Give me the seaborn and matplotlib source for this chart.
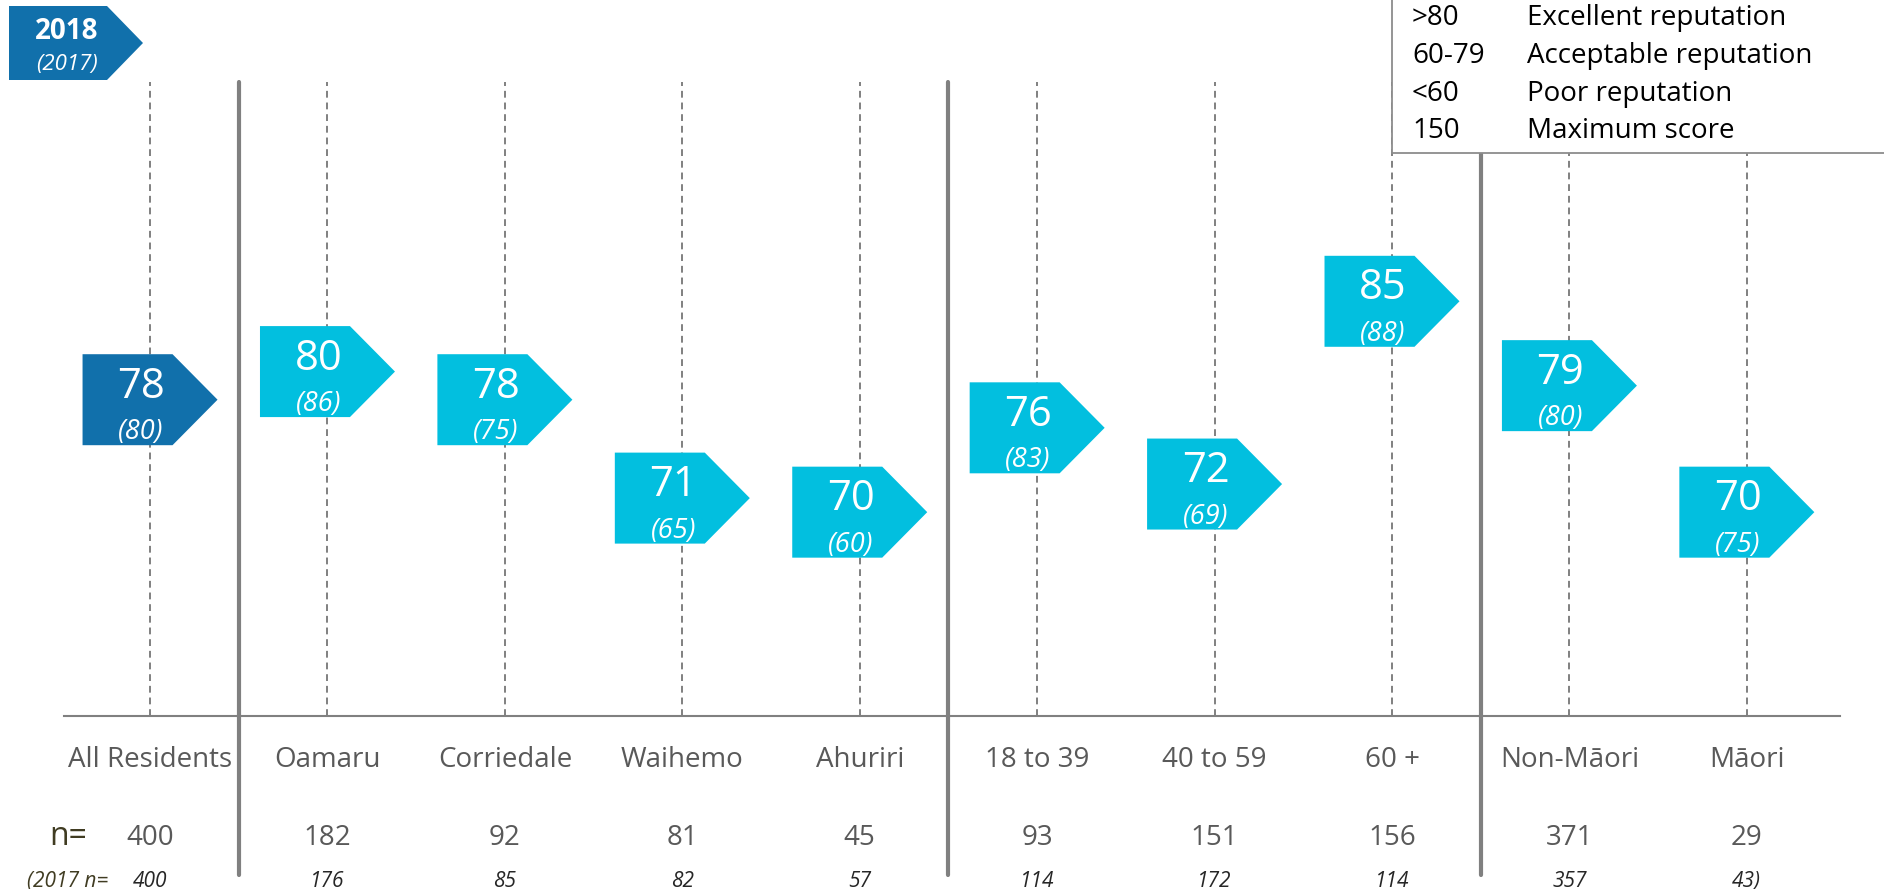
import numpy as np
import pandas as pd
import matplotlib
matplotlib.use("Agg")
import matplotlib.pyplot as plt
import seaborn as sns
from matplotlib.patches import Polygon, Rectangle

# ---- data ----
categories = ["All Residents", "Oamaru", "Corriedale", "Waihemo", "Ahuriri",
              "18 to 39", "40 to 59", "60 +", "Non-Māori", "Māori"]
score_2018 = [78, 80, 78, 71, 70, 76, 72, 85, 79, 70]
score_2017 = [80, 86, 75, 65, 60, 83, 69, 88, 80, 75]
n_2018 = [400, 182, 92, 81, 45, 93, 151, 156, 371, 29]
n_2017 = [400, 176, 85, 82, 57, 114, 172, 114, 357, 43]
group = ["Total"] + ["Subgroup"] * 9
separators = [0.5, 4.5, 7.5]
legend_bands = [">80", "60-79", "<60", "150"]
legend_texts = ["Excellent reputation", "Acceptable reputation",
                "Poor reputation", "Maximum score"]

# ---- style ----
DARK = "#1170AB"
CYAN = "#02BFDF"
GRID = "#808080"
LABEL = "#595959"
OLIVE = "#403C22"

sns.set_theme(style="white")
plt.rcParams["font.family"] = ["Open Sans", "DejaVu Sans"]

W, H = 1884, 889
fig = plt.figure(figsize=(W / 100, H / 100), dpi=100)
ax = fig.add_axes([64 / W, (H - 716) / H, (1840 - 64) / W, (716 - 82) / H])

df = pd.DataFrame({
    "category": categories,
    "pos": np.arange(len(categories)),
    "score": score_2018,
    "prev": score_2017,
    "group": group,
})

# arrow-shaped marker (flat left side, pointed right side)
arrow = np.array([[-1.0, -0.674], [0.333, -0.674], [1.0, 0.0],
                  [0.333, 0.674], [-1.0, 0.674], [-1.0, -0.674]])

# dashed guide per category
for p in df["pos"]:
    ax.axvline(p, color=GRID, lw=1.4, ls=(0, (3.5, 2.5)), zorder=1)

sns.scatterplot(data=df, x="pos", y="score", hue="group",
                palette={"Total": DARK, "Subgroup": CYAN},
                marker=arrow, s=97.2 ** 2, edgecolor="none", linewidth=0,
                legend=False, ax=ax, zorder=3)

for _, r in df.iterrows():
    ax.annotate(f"{r['score']}", (r["pos"], r["score"]), xytext=(-6.5, 1.4),
                textcoords="offset points", ha="center", va="baseline",
                fontsize=30, color="white", zorder=4)
    ax.annotate(f"({r['prev']})", (r["pos"], r["score"]), xytext=(-6.5, -28.5),
                textcoords="offset points", ha="center", va="baseline",
                fontsize=19.5, fontstyle="italic", color="white", zorder=4)

ax.set_xlim(-0.485, 9.525)
ax.set_ylim(55.5, 100.6)
ax.set_xticks([])
ax.set_yticks([])
ax.set_xlabel("")
ax.set_ylabel("")
for side in ["left", "right", "top"]:
    ax.spines[side].set_visible(False)
ax.spines["bottom"].set_color(GRID)
ax.spines["bottom"].set_linewidth(1.5)

# group separators running down through the n= rows
for s in separators:
    ax.axvline(s, ymin=-0.251, ymax=1.0, color=GRID, lw=3, clip_on=False, zorder=2)

# category labels and sample sizes
tx = ax.get_xaxis_transform()
for p, cat, n1, n0 in zip(df["pos"], categories, n_2018, n_2017):
    ax.text(p, -0.0804, cat, transform=tx, ha="center", va="baseline",
            fontsize=20, color=LABEL)
    ax.text(p, -0.2035, f"{n1}", transform=tx, ha="center", va="baseline",
            fontsize=20, color=LABEL)
    lab0 = f"{n0})" if p == len(categories) - 1 else f"{n0}"
    ax.text(p, -0.2697, lab0, transform=tx, ha="center", va="baseline",
            fontsize=15, fontstyle="italic", color="#262626")

fig.text(68 / W, (H - 845) / H, "n=", ha="center", va="baseline",
         fontsize=23, color=OLIVE)
fig.text(68 / W, (H - 887) / H, "(2017 n=", ha="center", va="baseline",
         fontsize=15, fontstyle="italic", color=OLIVE)

# year badge in the corner
badge = [(9, 6), (107, 6), (143, 43), (107, 80), (9, 80)]
fig.patches.append(Polygon([(x / W, (H - y) / H) for x, y in badge], closed=True,
                           transform=fig.transFigure, facecolor=DARK,
                           edgecolor="none", zorder=5))
fig.text(67 / W, (H - 39) / H, "2018", ha="center", va="baseline",
         fontsize=20, fontweight="bold", color="white", zorder=6)
fig.text(67 / W, (H - 70) / H, "(2017)", ha="center", va="baseline",
         fontsize=16, fontstyle="italic", color="white", zorder=6)

# score-band key box
fig.patches.append(Rectangle((1392 / W, (H - 153) / H), 0.4, 0.4,
                             transform=fig.transFigure, facecolor="white",
                             edgecolor="#8C8C8C", lw=1.3, zorder=5))
for i, (band, txt) in enumerate(zip(legend_bands, legend_texts)):
    yb = 25 + i * 37.8
    fig.text(1412 / W, (H - yb) / H, band, ha="left", va="baseline",
             fontsize=20, color="black", zorder=6)
    fig.text(1527 / W, (H - yb) / H, txt, ha="left", va="baseline",
             fontsize=20, color="black", zorder=6)

fig.savefig("out.png", dpi=100, facecolor="white")
